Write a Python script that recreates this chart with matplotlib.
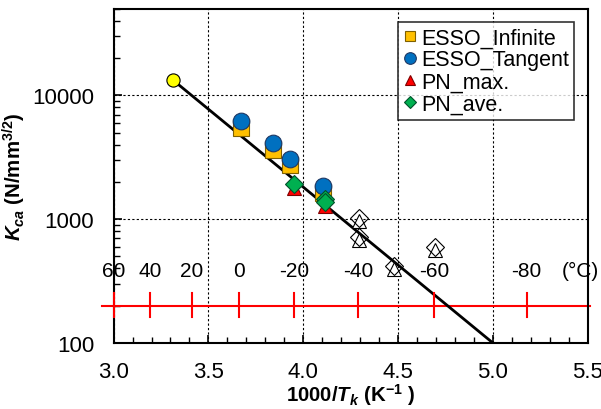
import numpy as np
import matplotlib
matplotlib.use('Agg')
import matplotlib.pyplot as plt
from matplotlib.ticker import MultipleLocator, LogLocator, NullFormatter, FixedLocator

plt.rcParams['font.family'] = ['Liberation Sans', 'DejaVu Sans']
plt.rcParams['mathtext.fontset'] = 'custom'
plt.rcParams['mathtext.it'] = 'Liberation Sans:italic:bold'
plt.rcParams['mathtext.rm'] = 'Liberation Sans:bold'
plt.rcParams['mathtext.bf'] = 'Liberation Sans:bold'

# 数据 (1000/T, Kca)
esso_inf_x = [3.673, 3.843, 3.928, 4.102]
esso_inf_y = [5450, 3590, 2720, 1625]
esso_tan_x = [3.673, 3.843, 3.928, 4.102]
esso_tan_y = [6160, 4120, 3060, 1870]
pn_max_x = [3.949, 4.112]
pn_max_y = [1800, 1270]
pn_ave_x = [3.949, 4.112, 4.112]
pn_ave_y = [1930, 1460, 1370]
# 空心点 (无图例)
open_tri_x = [4.292, 4.292, 4.476, 4.692]
open_tri_y = [960, 680, 395, 565]
open_dia_x = [4.292, 4.292, 4.476, 4.692]
open_dia_y = [1020, 720, 420, 600]
# 黄色点与回归线
yellow_x = [3.313]
yellow_y = [13300]
fit_x = [3.313, 5.0]
fit_y = [13300, 100]
# 温度刻度 (摄氏度)
temps_c = [60, 40, 20, 0, -20, -40, -60, -80]
temp_line_y = 200
temp_label_y = 385

fig = plt.figure(figsize=(6.01, 4.10), dpi=100)
ax = fig.add_axes([0.189, 0.161, 0.789, 0.815])

ax.plot(fit_x, fit_y, color='black', lw=2, zorder=3)
ax.plot(yellow_x, yellow_y, 'o', ms=9.5, mfc='#FFFF00', mec='black', mew=0.8, zorder=4)

ax.plot(esso_inf_x, esso_inf_y, 's', ms=11, mfc='#FFC000', mec='#7F6000', mew=0.8,
        ls='none', label='ESSO_Infinite', zorder=5)
ax.plot(esso_tan_x, esso_tan_y, 'o', ms=12, mfc='#0070C0', mec='#1F3864', mew=0.8,
        ls='none', label='ESSO_Tangent', zorder=6)
ax.plot(pn_max_x, pn_max_y, '^', ms=10, mfc='#FF0000', mec='#7F0000', mew=0.8,
        ls='none', label='PN_max.', zorder=7)
ax.plot(pn_ave_x, pn_ave_y, 'D', ms=9, mfc='#00B050', mec='#00502A', mew=0.8,
        ls='none', label='PN_ave.', zorder=8)

ax.plot(open_tri_x, open_tri_y, '^', ms=10, mfc='white', mec='black', mew=0.8, ls='none', zorder=5)
ax.plot(open_dia_x, open_dia_y, 'D', ms=9, mfc='none', mec='black', mew=0.8, ls='none', zorder=5)

# 温度辅助轴 (红线)
temps_x = [1000 / (t + 273.15) for t in temps_c]
ax.plot([2.939, 5.51], [temp_line_y, temp_line_y], color='#FF0000', lw=1.5,
        clip_on=False, zorder=2)
for tx in temps_x:
    ax.plot([tx, tx], [162, 254], color='#FF0000', lw=1.5, clip_on=False, zorder=10)
for t, tx in zip(temps_c, temps_x):
    ax.text(tx, temp_label_y, str(t), ha='center', va='center', fontsize=15)
ax.text(5.46, temp_label_y, '(°C)', ha='center', va='center', fontsize=15)

ax.set_yscale('log')
ax.set_xlim(3.0, 5.5)
ax.set_ylim(100, 50000)
ax.xaxis.set_major_locator(MultipleLocator(0.5))
ax.xaxis.set_minor_locator(MultipleLocator(0.1))
ax.xaxis.set_major_formatter(plt.FuncFormatter(lambda v, p: f'{v:.1f}'))
ax.yaxis.set_major_locator(FixedLocator([100, 1000, 10000]))
ax.yaxis.set_major_formatter(plt.FuncFormatter(lambda v, p: f'{int(v)}'))
ax.yaxis.set_minor_locator(LogLocator(base=10, subs=np.arange(2, 10)))
ax.yaxis.set_minor_formatter(NullFormatter())
ax.tick_params(which='both', direction='in', top=False, right=False, labelsize=16)
ax.tick_params(which='major', length=6, width=1.2)
ax.tick_params(which='minor', length=4, width=1)
ax.tick_params(axis='x', pad=13)
ax.tick_params(axis='y', pad=14)

ax.grid(True, which='major', color='black', ls=(0, (2, 2)), lw=0.8)
ax.set_axisbelow(True)
for s in ax.spines.values():
    s.set_linewidth(1.5)

ax.set_xlabel(r'1000/$T_k$ (K$^{-1}$ )', fontsize=14.7, fontweight='bold', labelpad=-1)
ax.set_ylabel(r'$K_{ca}$ (N/mm$^{3/2}$)', fontsize=14.7, fontweight='bold', labelpad=3)

leg = ax.legend(loc='upper right', bbox_to_anchor=(0.971, 0.961), fontsize=15.5,
                frameon=True, fancybox=False, edgecolor='black', handlelength=0.6,
                handletextpad=0.2, borderpad=0.25, labelspacing=0.05, markerscale=0.7,
                borderaxespad=0)
leg.get_frame().set_linewidth(1.2)

fig.savefig('out.png', dpi=100)
